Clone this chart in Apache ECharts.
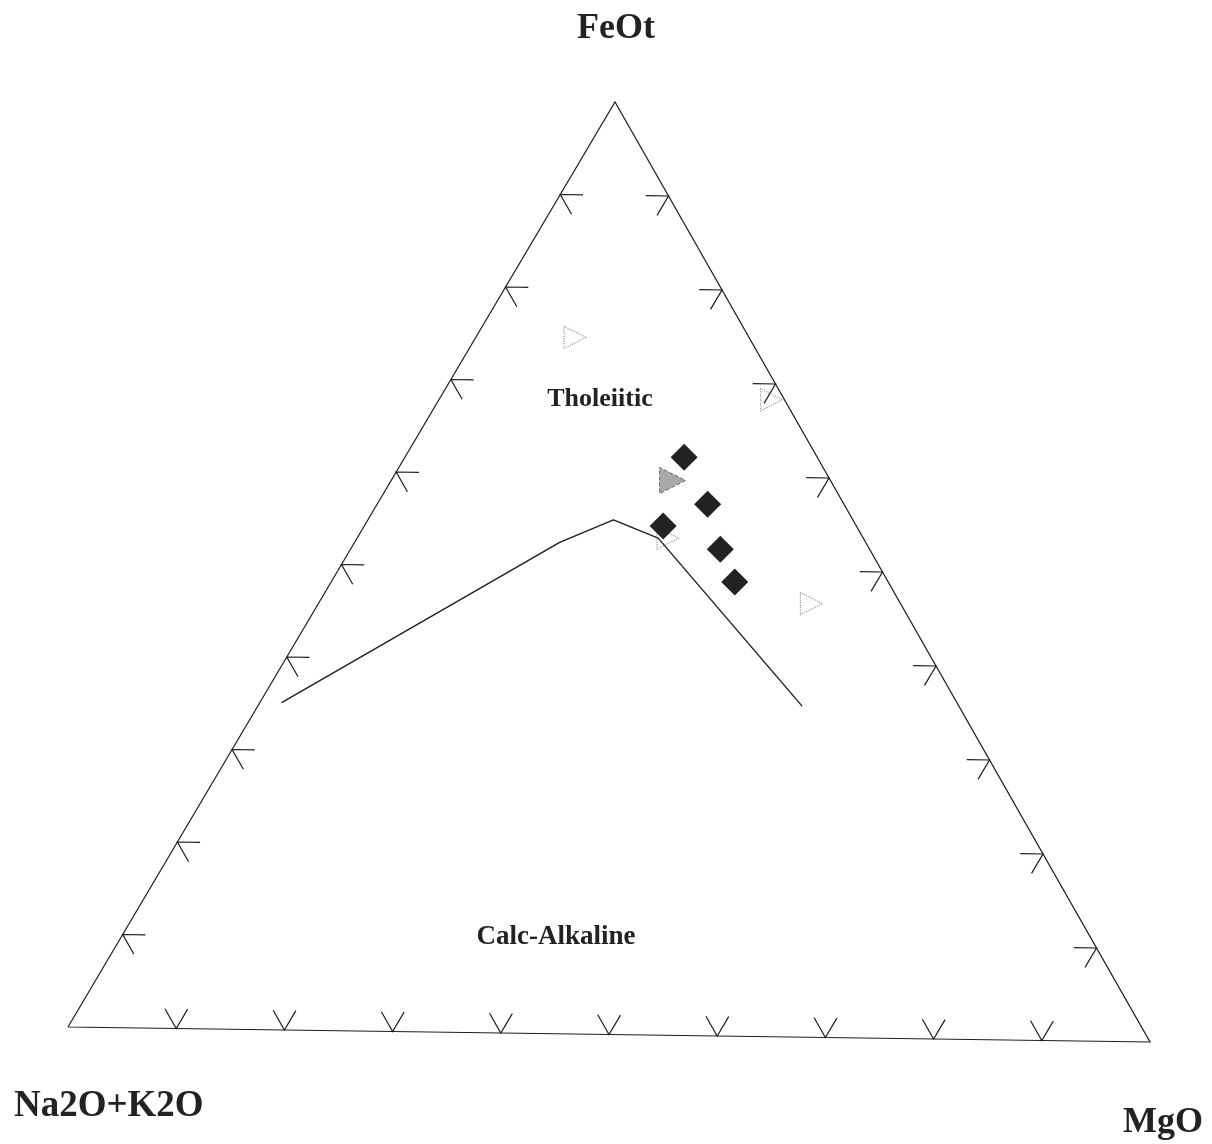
<!DOCTYPE html>
<html><head><meta charset="utf-8">
<script src="https://cdn.jsdelivr.net/npm/echarts@6/dist/echarts.min.js"></script>
<style>html,body{margin:0;padding:0;background:#fff}#c{width:1212px;height:1144px}</style>
</head><body><div id="c"></div>
<script>
// Apex and field labels
const apexLabels = ['FeOt', 'Na2O+K2O', 'MgO'];
const fieldLabels = ['Tholeiitic', 'Calc-Alkaline'];
// Tick positions along each edge (%)
const tickValues = [10, 20, 30, 40, 50, 60, 70, 80, 90];
// Tholeiitic / calc-alkaline boundary (A = Na2O+K2O, F = FeOt, M = MgO), %
const boundaryA = [62.9, 28.5, 22.3, 19.1, 14.6];
const boundaryF = [35.1, 52.7, 55.2, 53.3, 35.5];
const boundaryM = [2.0, 18.8, 22.5, 27.6, 49.9];
// Samples: black diamonds
const diamondA = [12.4, 12.7, 13.9, 14.3, 18.0];
const diamondF = [62.0, 57.0, 52.2, 48.7, 54.6];
const diamondM = [25.6, 30.3, 33.9, 37.0, 27.4];
// Samples: grey triangle
const greyTriA = [14.7];
const greyTriF = [59.5];
const greyTriM = [25.8];
// Samples: faint open symbols
const faintA = [16.2, 1.2, 18.2, 8.3];
const faintF = [74.7, 68.3, 53.3, 46.5];
const faintM = [9.1, 30.5, 28.5, 45.2];

// Layout: triangle corners in the chart's (pixel-unit) axis space
const CORNER_A = [68, 1027], CORNER_F = [615, 102], CORNER_M = [1150, 1042];
const TICK_LEN = 2.1;

function toXY(a, f, m) {
  const s = a + f + m, fm = m / s, ff = f / s;
  return [
    CORNER_A[0] + fm * (CORNER_M[0] - CORNER_A[0]) + ff * (CORNER_F[0] - CORNER_A[0]),
    CORNER_A[1] + fm * (CORNER_M[1] - CORNER_A[1]) + ff * (CORNER_F[1] - CORNER_A[1])
  ];
}
function pts(A, F, M) { return A.map((a, i) => toXY(a, F[i], M[i])); }

const segs = [];
segs.push([toXY(100,0,0), toXY(0,100,0), toXY(0,0,100), toXY(100,0,0)]);
const d = TICK_LEN;
tickValues.forEach(t => {
  // bottom edge (F = 0)
  const b = toXY(100 - t, 0, t);
  segs.push([toXY(100 - t - d, d, t), b, toXY(100 - t, d, t - d)]);
  // left edge (M = 0)
  const l = toXY(100 - t, t, 0);
  segs.push([toXY(100 - t - d, t, d), l, toXY(100 - t, t - d, d)]);
  // right edge (A = 0)
  const r = toXY(0, t, 100 - t);
  segs.push([toXY(d, t, 100 - t - d), r, toXY(d, t - d, 100 - t)]);
});

const serif = '"Liberation Serif", "Times New Roman", serif';
const chart = echarts.init(document.getElementById('c'), null, {renderer: 'canvas'});
chart.setOption({
  animation: false,
  backgroundColor: '#fff',
  grid: {left: 0, right: 0, top: 0, bottom: 0},
  xAxis: {type: 'value', min: 0, max: 1212, show: false},
  yAxis: {type: 'value', min: 0, max: 1144, inverse: true, show: false},
  series: [
    {
      type: 'lines', coordinateSystem: 'cartesian2d', polyline: true, silent: true,
      data: segs.map(c => ({coords: c})),
      lineStyle: {color: '#1e1e1e', width: 1.2, opacity: 1}
    },
    {
      type: 'line', data: pts(boundaryA, boundaryF, boundaryM), symbol: 'none', silent: true,
      lineStyle: {color: '#1e1e1e', width: 1.4}
    },
    {
      type: 'scatter', data: pts(faintA, faintF, faintM), symbol: 'triangle', symbolRotate: -90,
      symbolSize: 22,
      itemStyle: {color: 'rgba(0,0,0,0)', borderColor: '#9a9a9a', borderWidth: 1.2, borderType: 'dotted', opacity: 1}
    },
    {
      type: 'scatter', data: pts(greyTriA, greyTriF, greyTriM), symbol: 'triangle', symbolRotate: -90,
      symbolSize: 26,
      itemStyle: {color: '#a9a9a9', borderColor: '#666', borderWidth: 1, borderType: 'dashed', opacity: 1}
    },
    {
      type: 'scatter', data: pts(diamondA, diamondF, diamondM), symbol: 'diamond', symbolSize: 27,
      itemStyle: {color: '#222222', opacity: 1}
    }
  ],
  graphic: [
    {type: 'text', x: 616, y: 29, style: {text: apexLabels[0], font: 'bold 36px ' + serif, fill: '#222', align: 'center', verticalAlign: 'middle'}},
    {type: 'text', x: 14, y: 1106, style: {text: apexLabels[1], font: 'bold 37px ' + serif, fill: '#222', align: 'left', verticalAlign: 'middle'}},
    {type: 'text', x: 1163, y: 1123, style: {text: apexLabels[2], font: 'bold 36px ' + serif, fill: '#222', align: 'center', verticalAlign: 'middle'}},
    {type: 'text', x: 600, y: 399, style: {text: fieldLabels[0], font: 'bold 26px ' + serif, fill: '#222', align: 'center', verticalAlign: 'middle'}},
    {type: 'text', x: 556, y: 937, style: {text: fieldLabels[1], font: 'bold 27px ' + serif, fill: '#222', align: 'center', verticalAlign: 'middle'}}
  ]
});
</script>
</body></html>
